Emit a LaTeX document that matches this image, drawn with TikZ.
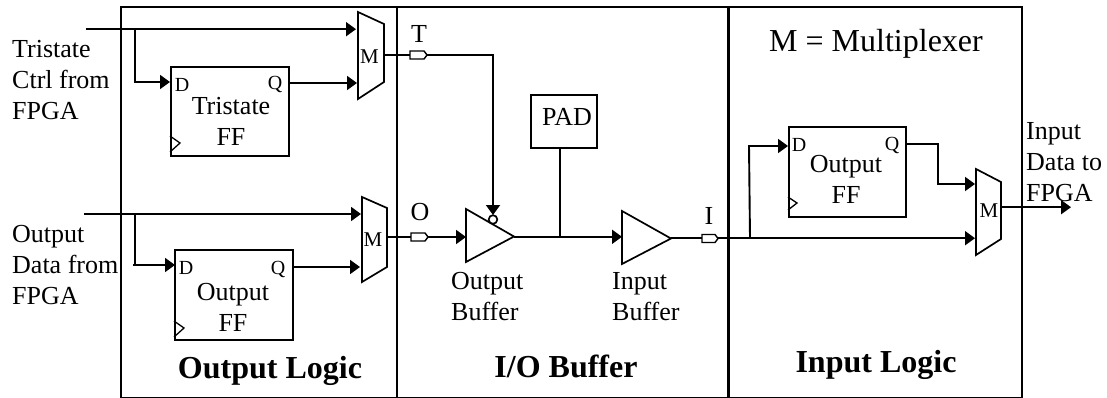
\documentclass[tikz,border=0pt]{standalone}
\usepackage{fontspec}
\setmainfont{Liberation Serif}
\usetikzlibrary{arrows.meta}
\tikzset{
  wire/.style={line width=1.9pt,line cap=butt},
  arrowwire/.style={wire,-{Triangle[length=10pt,width=14pt]}},
  frame/.style={draw,line width=2.2pt},
  box/.style={draw,line width=1.7pt,inner sep=0pt,anchor=north west},
  gate/.style={draw,line width=1.7pt,line join=miter,fill=white},
  port/.style={draw,line width=1.4pt,fill=white},
  txt/.style={inner sep=0pt,font=\fontsize{26}{31}\selectfont},
  stack/.style={txt,align=left,anchor=base west},
  ctr/.style={txt,align=center,anchor=base},
  title/.style={inner sep=0pt,anchor=base,font=\fontsize{32}{36}\selectfont},
  head/.style={title,font=\fontsize{32}{36}\selectfont\bfseries},
  pin/.style={inner sep=0pt,font=\fontsize{20}{22}\selectfont},
  muxl/.style={inner sep=0pt,font=\fontsize{21}{22}\selectfont},
}
\begin{document}
\begin{tikzpicture}[x=1pt,y=-1pt]
\useasboundingbox (0,0) rectangle (1107,398);
% frames
\node[frame,inner sep=0pt,anchor=north west,minimum width=901pt,minimum height=391pt] (outer) at (120,6) {};
\coordinate (d1t) at (397,6); \coordinate (d1b) at (397,397);
\coordinate (d2t) at (728.5,6); \coordinate (d2b) at (728.5,397);
\draw[frame] (d1t) -- (d1b);
\draw[frame] (d2t) -- (d2b);
% labels outside
\node[stack] (ltri) at (12,120) {Tristate\\Ctrl from\\FPGA};
\node[stack] (lout) at (12,304) {Output\\Data from\\FPGA};
\node[stack] (lin) at (1026,201) {Input\\Data to\\FPGA};
% flip-flops
\node[box,minimum width=118pt,minimum height=89pt] (ff1) at (170,66) {};
\node[box,minimum width=118pt,minimum height=90pt] (ff2) at (174,249) {};
\node[box,minimum width=117pt,minimum height=90pt] (ff3) at (788,126) {};
\node[ctr] (ff1t) at (231,146) {Tristate\\FF};
\node[ctr] (ff2t) at (233,331) {Output\\FF};
\node[ctr] (ff3t) at (846,203) {Output\\FF};
\node[pin] (d1) at (182,85) {D}; \node[pin] (q1) at (275,85) {Q};
\node[pin] (d2) at (186,268) {D}; \node[pin] (q2) at (278,269) {Q};
\node[pin] (d3) at (799,145) {D}; \node[pin] (q3) at (892,146) {Q};
\draw[wire,line width=1.3pt] (170,136) -- (180,143) -- (170,152);
\draw[wire,line width=1.3pt] (174,321) -- (184,328) -- (174,337);
\draw[wire,line width=1.3pt] (788,197) -- (797,203) -- (788,210);
% multiplexers
\draw[gate] (358,12) -- (384,24) -- (384,82) -- (358,99) -- cycle;
\draw[gate] (362,197) -- (387,208) -- (387,267) -- (362,282) -- cycle;
\draw[gate] (976,169) -- (1001,182) -- (1001,239) -- (976,255) -- cycle;
\node[muxl] (m1) at (369.5,57) {M};
\node[muxl] (m2) at (373,240) {M};
\node[muxl] (m3) at (989,211) {M};
% named connector ends
\coordinate (a0) at (86,29.2); \coordinate (a1) at (356,29.2); \coordinate (a2) at (135,29.2);
\coordinate (a3) at (135,82); \coordinate (a4) at (170,82);
\coordinate (a5) at (288,83); \coordinate (a6) at (357,83);
\coordinate (b0) at (84,214); \coordinate (b1) at (361,214); \coordinate (b2) at (135,214);
\coordinate (b3) at (135,265); \coordinate (b4) at (175,265);
\coordinate (b5) at (292,267); \coordinate (b6) at (360,267);
\coordinate (m1o) at (384,55.2); \coordinate (m2o) at (387,237);
\coordinate (m3o) at (1001,207.2); \coordinate (out) at (1071,207.2);
\coordinate (pT1) at (410,55.2); \coordinate (pT2) at (427,55.2);
\coordinate (pO1) at (411,237); \coordinate (pO2) at (428,237);
\coordinate (pI1) at (702,238.2); \coordinate (pI2) at (718,238.2);
\coordinate (tb) at (493,55.2); \coordinate (tc) at (493,215);
\coordinate (buf1i) at (466,237); \coordinate (buf1o) at (514,236.8);
\coordinate (buf2i) at (622,236.8); \coordinate (buf2o) at (671,238.2);
\coordinate (jn) at (560,236.8);
\coordinate (c0) at (975,238.2); \coordinate (c1) at (750,238.2); \coordinate (c2) at (749,146); \coordinate (c3) at (788,146);
\coordinate (e0) at (905,144); \coordinate (e1) at (938,144); \coordinate (e2) at (938,184); \coordinate (e3) at (975,184);
% wires
\draw[arrowwire] (a0) -- (a1);
\draw[arrowwire] (a2) -- (a3) -- (a4);
\draw[arrowwire] (a5) -- (a6);
\draw[arrowwire] (b0) -- (b1);
\draw[wire] (b2) -- (b3);
\draw[arrowwire] (133,265) -- (b4);
\draw[arrowwire] (b5) -- (b6);
\draw[wire] (m1o) -- (pT1);
\draw[wire] (m2o) -- (pO1);
\draw[arrowwire] (pT2) -- (tb) -- (tc);
\draw[arrowwire] (pO2) -- (buf1i);
\draw[arrowwire] (buf1o) -- (buf2i);
\draw[wire] (buf2o) -- (pI1);
\draw[arrowwire] (pI2) -- (c0);
\draw[arrowwire] (c1) -- (c2) -- (c3);
\draw[arrowwire] (e0) -- (e1) -- (e2) -- (e3);
\draw[arrowwire] (m3o) -- (out);
% ports
\draw[port] (410,51) -- (424,51) -- (427,55) -- (424,59) -- (410,59) -- cycle;
\draw[port] (411,233) -- (425,233) -- (428,237) -- (425,241) -- (411,241) -- cycle;
\draw[port] (702,234.5) -- (715,234.5) -- (718,238.5) -- (715,242.5) -- (702,242.5) -- cycle;
% buffers
\draw[gate] (466,209) -- (514,236.5) -- (466,262) -- cycle;
\draw[gate] (622,211) -- (671,238.5) -- (622,264) -- cycle;
\draw[gate] (493,219.5) circle (4.3);
% pad
\node[box,minimum width=66pt,minimum height=53pt] (pad) at (530,94) {};
\node[ctr] (padt) at (567,126) {PAD};
\draw[wire] (pad.south -| jn) -- (jn);
% texts
\node[ctr] (tT) at (419,43) {T};
\node[ctr] (tO) at (420,220) {O};
\node[ctr] (tI) at (709,224) {I};
\node[stack] (obt) at (451,320) {Output\\Buffer};
\node[stack] (ibt) at (612,320) {Input\\Buffer};
\node[head] (h1) at (270,378) {Output Logic};
\node[head] (h2) at (566,377) {I/O Buffer};
\node[head] (h3) at (876,372) {Input Logic};
\node[title] (mm) at (876,52) {M = Multiplexer};
\end{tikzpicture}
\end{document}
